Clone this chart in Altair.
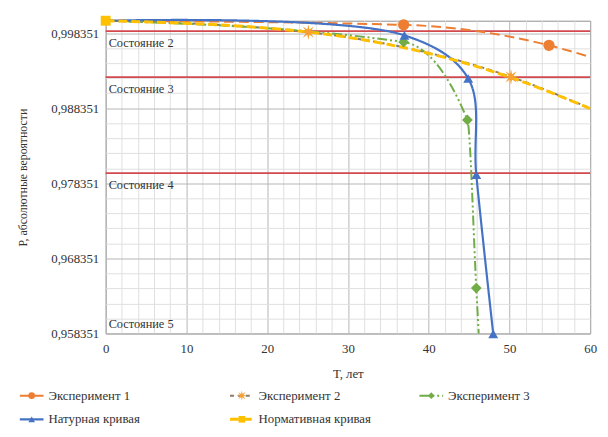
import altair as alt
import pandas as pd
import numpy as np

# ---------------- data ----------------
series_names = ["Эксперимент 1", "Эксперимент 2", "Эксперимент 3",
                "Натурная кривая", "Нормативная кривая"]

exp1_T = [0, 36.9, 54.9, 60]
exp1_P = [1.0, 0.99945, 0.99672, 0.99517]
exp1_m = [False, True, True, False]

exp2_T = [0, 25.1, 50.2, 60]
exp2_P = [1.0, 0.99848, 0.99252, 0.98833]
exp2_m = [False, True, True, False]

exp3_T = [0, 36.9, 44.8, 45.9, 46.2]
exp3_P = [1.0, 0.99716, 0.98679, 0.96440, 0.95835]
exp3_m = [False, True, True, True, False]

nat_T = [0, 37.0, 44.9, 45.9, 48.0]
nat_P = [1.0, 0.99805, 0.99230, 0.97950, 0.95830]
nat_m = [False, True, True, True, True]

norm_T = [0, 25, 50, 60]
norm_P = [1.0, 0.99850, 0.99250, 0.98830]
norm_m = [True, False, False, False]

state_labels = ["Состояние 2", "Состояние 3", "Состояние 4"]
state_levels = [0.9986, 0.9925, 0.9797]
state5_label = ["Состояние 5"]
state5_level = [0.958351]

# ---------------- styles ----------------
FONT = "'Liberation Serif', 'Times New Roman', Times, serif"
TXT = "#333333"
line_colors = ["#ED7D31", "#8C7A68", "#70AD47", "#4472C4", "#FFC000"]
fill_colors = ["#ED7D31", "#F5A030", "#70AD47", "#4472C4", "#FFC000"]
dashes = [[10, 5], [4, 4], [10, 3, 2, 3, 2, 3], [1, 0], [9, 4]]
widths = [2, 2, 2, 2.2, 3]
interps = ["monotone", "monotone", "monotone", "catmull-rom", "monotone"]

ang = np.arange(16) * np.pi / 8 - np.pi / 2
rad = np.where(np.arange(16) % 2 == 0, 1.0, 0.35)
star = "M" + "L".join(f"{r*np.cos(a):.3f},{r*np.sin(a):.3f}" for a, r in zip(ang, rad)) + "Z"
shapes = ["circle", star, "diamond", "triangle-up", "square"]
msizes = [130, 250, 120, 100, 100]
lsizes = [45, 110, 45, 45, 45]

# ---------------- frames ----------------
frames = []
for name, T, P, M in zip(series_names,
                         [exp1_T, exp2_T, exp3_T, nat_T, norm_T],
                         [exp1_P, exp2_P, exp3_P, nat_P, norm_P],
                         [exp1_m, exp2_m, exp3_m, nat_m, norm_m]):
    frames.append(pd.DataFrame({"T": T, "P": P, "series": name, "marker": M}))
df = pd.concat(frames, ignore_index=True)

states_df = pd.DataFrame({"label": state_labels, "level": state_levels})
state5_df = pd.DataFrame({"label": state5_label, "level": state5_level})

leg_df = pd.DataFrame({"series": series_names,
                       "col": [i % 3 for i in range(len(series_names))],
                       "row": [i // 3 for i in range(len(series_names))]})

# ---------------- scales / axes ----------------
x_minor = list(range(0, 61, 2))
y_minor = [round(0.958351 + 0.002 * k, 6) for k in range(21)]

xscale = alt.Scale(domain=[0, 60], nice=False, zero=False)
yscale = alt.Scale(domain=[0.958351, 1.0], nice=False, zero=False)

x_axis = alt.Axis(
    values=x_minor,
    labelExpr="datum.value % 10 == 0 ? format(datum.value, 'd') : ''",
    grid=True,
    gridColor={"condition": {"test": "datum.value % 10 == 0", "value": "#b5b5b5"},
               "value": "#e0e0e0"},
    gridWidth=1, ticks=False, domain=False, labelFlush=False, labelOverlap=False,
    labelFont=FONT, labelFontSize=13, labelColor=TXT, labelPadding=9,
    title="Т, лет", titleFont=FONT, titleFontSize=13, titleFontWeight="normal",
    titleColor=TXT, titlePadding=13)

ymaj = "abs((datum.value - 0.958351) / 0.01 - round((datum.value - 0.958351) / 0.01)) < 0.01"
y_axis = alt.Axis(
    values=y_minor,
    labelExpr=f"{ymaj} ? replace(format(datum.value, '.6f'), '.', ',') : ''",
    grid=True,
    gridColor={"condition": {"test": ymaj, "value": "#b5b5b5"}, "value": "#e0e0e0"},
    gridWidth=1, ticks=False, domain=False, labelFlush=False, labelOverlap=False,
    labelFont=FONT, labelFontSize=13, labelColor=TXT, labelPadding=7,
    title="Р, абсолютные вероятности", titleFont=FONT, titleFontSize=12,
    titleFontWeight="normal", titleColor=TXT, titlePadding=22)

X = alt.X("T:Q", scale=xscale, axis=x_axis)
Y = alt.Y("P:Q", scale=yscale, axis=y_axis)

base = alt.Chart(df)
grid_layer = base.mark_point(opacity=0).encode(x=X, y=Y)

rules = alt.Chart(states_df).mark_rule(color="#D2494E", strokeWidth=1.8).encode(
    y=alt.Y("level:Q", scale=yscale, axis=y_axis))
texts = alt.Chart(states_df).mark_text(align="left", baseline="middle", dx=3, dy=12,
                                       font=FONT, fontSize=12.5, color=TXT).encode(
    x=alt.value(0), y=alt.Y("level:Q", scale=yscale, axis=y_axis), text="label:N")
text5 = alt.Chart(state5_df).mark_text(align="left", baseline="middle", dx=3, dy=-10,
                                       font=FONT, fontSize=12.5, color=TXT).encode(
    x=alt.value(0), y=alt.Y("level:Q", scale=yscale, axis=y_axis), text="label:N")

# legend position scales (piecewise: three legend columns, two rows)
lxs = alt.Scale(domain=[0, 1, 2], range=[-87, 126, 318])
lys = alt.Scale(domain=[0, 1], range=[380, 404])
LXe = alt.X("col:Q", scale=lxs, axis=None)
LYe = alt.Y("row:Q", scale=lys, axis=None)

line_layers, point_layers, leg_layers = [], [], []
for name, itp, lc, fc, da, w, sh, ms, ls in zip(series_names, interps, line_colors,
                                                 fill_colors, dashes, widths, shapes,
                                                 msizes, lsizes):
    sub = base.transform_filter(alt.datum.series == name)
    line_layers.append(sub.mark_line(interpolate=itp, color=lc, strokeDash=da,
                                     strokeWidth=w).encode(x=X, y=Y, order="T:Q"))
    point_layers.append(sub.transform_filter(alt.datum.marker).mark_point(
        filled=True, opacity=1, color=fc, shape=sh, size=ms).encode(x=X, y=Y))
    lsub = alt.Chart(leg_df).transform_filter(alt.datum.series == name)
    leg_layers.append(lsub.mark_rule(x2Offset=24, color=lc, strokeDash=da,
                                     strokeWidth=w).encode(x=LXe, x2="col:Q", y=LYe))
    leg_layers.append(lsub.mark_point(filled=True, opacity=1, color=fc, shape=sh,
                                      size=ls, xOffset=12).encode(x=LXe, y=LYe))
    leg_layers.append(lsub.mark_text(align="left", baseline="middle", dx=29, font=FONT,
                                     fontSize=13, color=TXT).encode(
        x=LXe, y=LYe, text="series:N"))

main = alt.layer(grid_layer, rules, texts, text5, *line_layers, *point_layers)
legend = alt.layer(*leg_layers)

chart = alt.layer(main, legend).resolve_scale(x="independent", y="independent").properties(
    width=491, height=317,
    autosize=alt.AutoSizeParams(type="none"),
    padding={"left": 99, "top": 10, "right": 10, "bottom": 100},
).configure(background="white", font=FONT).configure_view(stroke="#8f8f8f", strokeWidth=1)

chart.save("out.html", embed_options={"renderer": "svg", "actions": False})
